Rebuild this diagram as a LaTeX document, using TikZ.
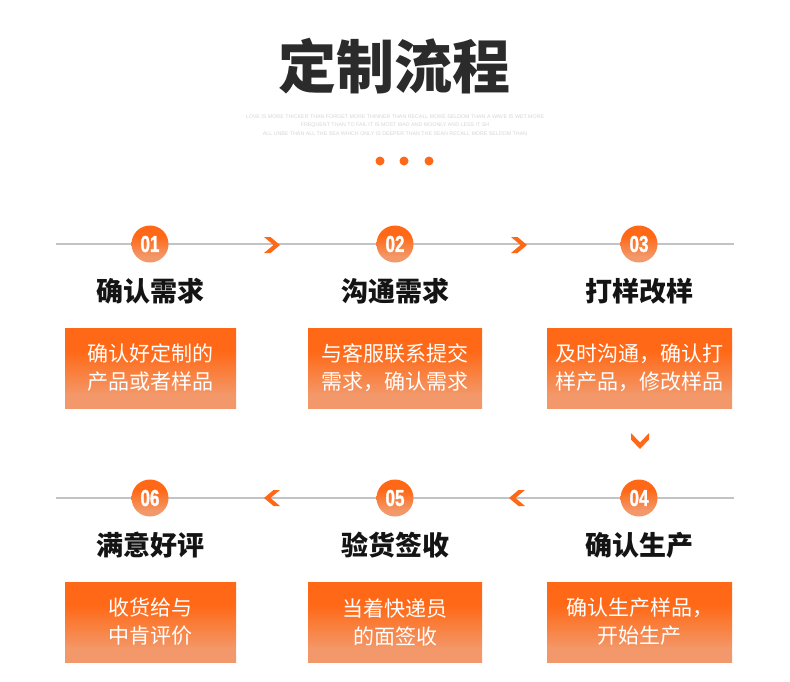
\documentclass[tikz,border=0pt]{standalone}
\usepackage{fontspec}
\usepackage{graphicx}
\setmainfont{Noto Sans CJK SC}
\newfontfamily\numfont{Liberation Sans}[BoldFeatures={FakeBold=1.6}]
\newfontfamily\mottofont{Liberation Sans}
\usetikzlibrary{positioning}
\definecolor{FlowOrange}{RGB}{255,104,22}
\definecolor{FlowMid}{RGB}{249,128,62}
\definecolor{FlowLight}{RGB}{243,152,106}
\definecolor{RuleGray}{RGB}{192,196,198}
\definecolor{TitleDark}{RGB}{43,43,43}
\definecolor{FaintGray}{RGB}{214,214,214}
\pgfdeclareverticalshading{flowshade}{100bp}{color(0bp)=(FlowLight); color(33bp)=(FlowLight); color(47bp)=(FlowMid); color(61bp)=(FlowOrange); color(100bp)=(FlowOrange)}

\begin{document}
\begin{tikzpicture}[
  x=1pt, y=-1pt,
  stepnum/.style={circle, minimum size=37pt, inner sep=0pt, shading=flowshade, text=white, font=\numfont\bfseries\fontsize{23}{23}\selectfont},
  steptitle/.style={font=\bfseries\fontsize{27}{30}\selectfont, text=black!92},
  stepbox/.style={shading=flowshade, minimum height=80pt, inner sep=0pt, align=center, text=white, font=\fontsize{21}{28}\selectfont},
  rule/.style={RuleGray, line width=1.4pt},
  chev/.style={fill=FlowOrange},
  dot/.style={circle, fill=FlowOrange, minimum size=9pt, inner sep=0pt}
]
  \fill[white] (0,0) rectangle (790,681);
  \useasboundingbox (0,0) rectangle (790,681);

  % Heading
  \node[font=\bfseries\fontsize{58}{60}\selectfont, text=TitleDark] (title) at (394,66) {定制流程};
  \node[font=\mottofont\fontsize{5.3}{8.2}\selectfont, text=FaintGray, align=center] (motto) at (395,125)
    {LOVE IS MORE THICKER THAN FORGET MORE THINNER THAN RECALL MORE SELDOM THAN A WAVE IS WET MORE\\
     FREQUENT THAN TO FAIL IT IS MOST MAD AND MOONLY AND LESS IT SH\\
     ALL UNBE THAN ALL THE SEA WHICH ONLY IS DEEPER THAN THE SEAN RECALL MORE SELDOM THAN};
  \node[dot] (d1) at (380,161) {};
  \node[dot] (d2) at (404,161) {};
  \node[dot] (d3) at (429,161) {};

  % Rules
  \coordinate (r1s) at (56,244);
  \coordinate (r1e) at (734,244);
  \coordinate (r2s) at (56,498);
  \coordinate (r2e) at (734,498);
  \draw[rule] (r1s) -- (r1e);
  \draw[rule] (r2s) -- (r2e);

  % Step numbers
  \node[stepnum] (c1) at (150,244) {\scalebox{0.74}[1]{01}};
  \node[stepnum] (c2) at (395,244) {\scalebox{0.74}[1]{02}};
  \node[stepnum] (c3) at (639,244) {\scalebox{0.74}[1]{03}};
  \node[stepnum] (c4) at (639,498) {\scalebox{0.74}[1]{04}};
  \node[stepnum] (c5) at (395,498) {\scalebox{0.74}[1]{05}};
  \node[stepnum] (c6) at (150,498) {\scalebox{0.74}[1]{06}};

  % Step titles
  \node[steptitle] (t1) at (150,291) {确认需求};
  \node[steptitle] (t2) at (395,291) {沟通需求};
  \node[steptitle] (t3) at (639,291) {打样改样};
  \node[steptitle] (t4) at (639,545) {确认生产};
  \node[steptitle] (t5) at (395,545) {验货签收};
  \node[steptitle] (t6) at (150,545) {满意好评};

  % Step boxes
  \node[stepbox, minimum width=171pt] (b1) at (150.5,368) {确认好定制的\\产品或者样品};
  \node[stepbox, minimum width=174pt] (b2) at (395,368) {与客服联系提交\\需求，确认需求};
  \node[stepbox, minimum width=185pt] (b3) at (639.5,368) {及时沟通，确认打\\样产品，修改样品};
  \node[stepbox, minimum width=185pt] (b4) at (639.5,622) {确认生产样品，\\开始生产};
  \node[stepbox, minimum width=174pt] (b5) at (395,622) {当着快递员\\的面签收};
  \node[stepbox, minimum width=171pt] (b6) at (150.5,622) {收货给与\\中肯评价};

  % Chevrons
  \coordinate (a12) at (272,245);
  \coordinate (a23) at (519,245);
  \coordinate (a34) at (640,441);
  \coordinate (a45) at (517,498);
  \coordinate (a56) at (272,498);
  \fill[chev, shift={(a12)}] (-8,-8) -- (-1.5,-8) -- (8,0) -- (-1.5,8) -- (-8,8) -- (1.5,0) -- cycle;
  \fill[chev, shift={(a23)}] (-8,-8) -- (-1.5,-8) -- (8,0) -- (-1.5,8) -- (-8,8) -- (1.5,0) -- cycle;
  \fill[chev, shift={(a34)}, rotate=-90] (-8,-9) -- (-1.5,-9) -- (8,0) -- (-1.5,9) -- (-8,9) -- (1.5,0) -- cycle;
  \fill[chev, shift={(a45)}, rotate=180] (-8,-8) -- (-1.5,-8) -- (8,0) -- (-1.5,8) -- (-8,8) -- (1.5,0) -- cycle;
  \fill[chev, shift={(a56)}, rotate=180] (-8,-8) -- (-1.5,-8) -- (8,0) -- (-1.5,8) -- (-8,8) -- (1.5,0) -- cycle;
\end{tikzpicture}
\end{document}
